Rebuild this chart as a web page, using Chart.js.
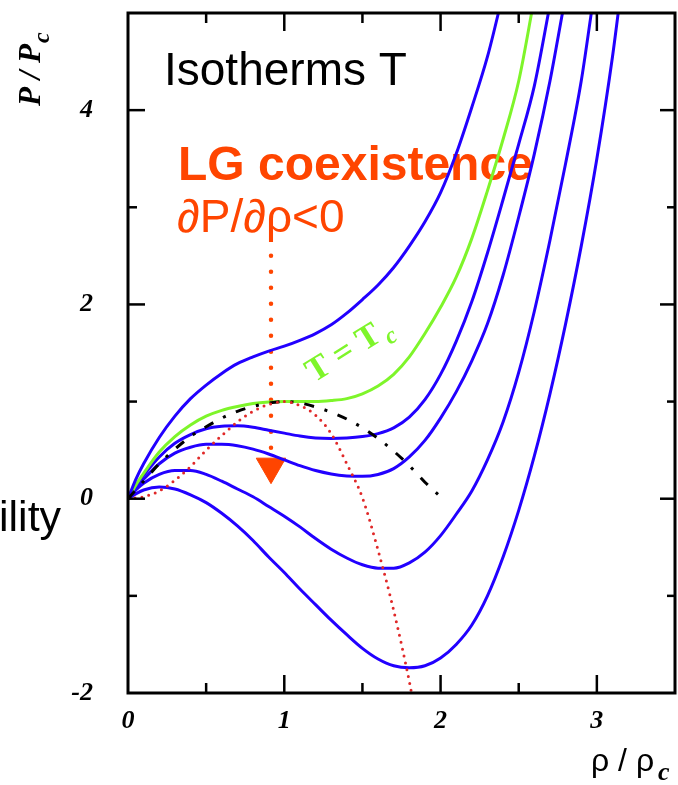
<!DOCTYPE html>
<html>
<head>
<meta charset="utf-8">
<script src="https://cdn.jsdelivr.net/npm/chart.js@4.4.1/dist/chart.umd.min.js"></script>
<style>
  html, body { margin: 0; padding: 0; background: #fff; }
  canvas { display: block; }
</style>
</head>
<body>
<canvas id="chart" width="678" height="785"></canvas>
<script>
// isotherms, rho / rho_c against P / P_c
const rhoHot = [0, 0.05, 0.1, 0.2, 0.3, 0.4, 0.5, 0.6, 0.7, 0.8, 0.9, 1.0, 1.1, 1.2, 1.3, 1.4, 1.5, 1.6, 1.7, 1.8, 1.9, 2.0, 2.1, 2.2, 2.3, 2.37, 2.42];
const pHot   = [0, 0.2, 0.36, 0.63, 0.85, 1.03, 1.17, 1.29, 1.39, 1.46, 1.52, 1.57, 1.63, 1.7, 1.79, 1.91, 2.05, 2.2, 2.38, 2.6, 2.85, 3.15, 3.55, 4.03, 4.55, 5.0, 5.35];

const rhoCrit = [0, 0.05, 0.1, 0.2, 0.3, 0.4, 0.5, 0.6, 0.7, 0.8, 0.9, 1.0, 1.1, 1.2, 1.3, 1.4, 1.5, 1.6, 1.7, 1.8, 1.9, 2.0, 2.1, 2.2, 2.3, 2.4, 2.5, 2.58, 2.62];
const pCrit   = [0, 0.14, 0.26, 0.48, 0.64, 0.76, 0.85, 0.91, 0.95, 0.98, 0.995, 1.0, 1.0, 1.0, 1.01, 1.03, 1.08, 1.16, 1.28, 1.46, 1.7, 1.97, 2.28, 2.68, 3.17, 3.7, 4.3, 4.98, 5.35];

const rhoB1 = [0, 0.05, 0.1, 0.2, 0.3, 0.4, 0.5, 0.6, 0.7, 0.8, 0.9, 1.0, 1.1, 1.2, 1.3, 1.4, 1.5, 1.6, 1.7, 1.8, 1.9, 2.0, 2.1, 2.2, 2.3, 2.4, 2.5, 2.6, 2.69, 2.73];
const pB1   = [0, 0.13, 0.24, 0.43, 0.57, 0.66, 0.72, 0.745, 0.75, 0.735, 0.705, 0.675, 0.645, 0.625, 0.62, 0.625, 0.64, 0.67, 0.73, 0.84, 1.02, 1.28, 1.62, 2.03, 2.53, 3.08, 3.65, 4.25, 5.0, 5.35];

const rhoB2 = [0, 0.05, 0.1, 0.2, 0.3, 0.4, 0.5, 0.6, 0.7, 0.8, 0.9, 1.0, 1.1, 1.2, 1.3, 1.4, 1.5, 1.6, 1.7, 1.8, 1.9, 2.0, 2.1, 2.2, 2.3, 2.4, 2.5, 2.6, 2.7, 2.78, 2.82];
const pB2   = [0, 0.11, 0.2, 0.36, 0.47, 0.53, 0.56, 0.56, 0.545, 0.51, 0.46, 0.4, 0.34, 0.29, 0.255, 0.235, 0.23, 0.25, 0.31, 0.43, 0.6, 0.83, 1.1, 1.42, 1.8, 2.3, 2.9, 3.55, 4.3, 5.0, 5.35];

const rhoB3 = [0, 0.05, 0.1, 0.2, 0.3, 0.4, 0.5, 0.6, 0.7, 0.8, 0.9, 1.0, 1.1, 1.2, 1.3, 1.4, 1.5, 1.6, 1.7, 1.8, 1.9, 2.0, 2.1, 2.2, 2.3, 2.4, 2.5, 2.6, 2.7, 2.8, 2.9, 2.96, 3.0];
const pB3   = [0, 0.09, 0.16, 0.25, 0.29, 0.29, 0.25, 0.18, 0.1, 0.02, -0.08, -0.18, -0.29, -0.41, -0.52, -0.61, -0.68, -0.715, -0.715, -0.66, -0.55, -0.38, -0.16, 0.08, 0.4, 0.79, 1.3, 1.93, 2.66, 3.45, 4.3, 4.95, 5.4];

const rhoB4 = [0, 0.05, 0.1, 0.2, 0.3, 0.4, 0.5, 0.6, 0.7, 0.8, 0.9, 1.0, 1.1, 1.2, 1.3, 1.4, 1.5, 1.6, 1.7, 1.8, 1.9, 2.0, 2.1, 2.2, 2.3, 2.4, 2.5, 2.6, 2.7, 2.8, 2.9, 3.0, 3.1, 3.16];
const pB4   = [0, 0.05, 0.09, 0.12, 0.1, 0.04, -0.04, -0.15, -0.28, -0.43, -0.6, -0.76, -0.93, -1.09, -1.25, -1.4, -1.54, -1.65, -1.72, -1.74, -1.72, -1.64, -1.5, -1.3, -1.0, -0.6, -0.12, 0.44, 1.08, 1.8, 2.6, 3.5, 4.55, 5.3];

// coexistence (dash-dot) and spinodal (red dots)
const rhoCoex = [0, 0.1, 0.2, 0.3, 0.4, 0.5, 0.6, 0.7, 0.8, 0.9, 1.0, 1.1, 1.2, 1.3, 1.4, 1.5, 1.6, 1.7, 1.8, 1.9, 2.0];
const pCoex   = [0, 0.18, 0.36, 0.51, 0.64, 0.74, 0.83, 0.9, 0.95, 0.985, 1.0, 0.985, 0.945, 0.89, 0.82, 0.73, 0.62, 0.49, 0.34, 0.17, 0.02];

const rhoSpin = [0, 0.1, 0.2, 0.3, 0.4, 0.5, 0.6, 0.7, 0.8, 0.9, 1.0, 1.1, 1.2, 1.3, 1.4, 1.5, 1.6, 1.7, 1.8, 1.82];
const pSpin   = [0, 0.02, 0.08, 0.19, 0.33, 0.5, 0.65, 0.79, 0.9, 0.97, 1.0, 0.96, 0.86, 0.67, 0.36, 0.01, -0.53, -1.15, -1.88, -2.05];

// arrow: dotted stem and head
const rhoArrow = [0.915, 0.915];
const pArrow   = [2.5, 0.5];
const arrowHead = [{ x: 0.915, y: 0.33 }];

// axes
const xTickLabels = [0, 1, 2, 3];
const yTickLabels = [-2, 0, 2, 4];
const xMajor = [1, 2, 3];
const xMinor = [0.5, 1.5, 2.5];
const yMajor = [0, 2, 4];
const yMinor = [-1, 1, 3];

const BLUE = '#2200ff';
const GREEN = '#7ef52a';
const ORANGE = '#ff4500';

const toPts = (xs, ys) => xs.map((x, i) => ({ x, y: ys[i] }));

const curve = (xs, ys, color) => ({
  data: toPts(xs, ys),
  borderColor: color,
  borderWidth: 3,
  pointRadius: 0,
  cubicInterpolationMode: 'monotone'
});

const framePlugin = {
  id: 'framePlugin',
  afterDatasetsDraw(chart) {
    const { ctx, chartArea: a, scales: { x, y } } = chart;
    ctx.save();
    ctx.strokeStyle = '#000';
    ctx.lineWidth = 2.5;
    const tick = (x1, y1, x2, y2) => {
      ctx.beginPath(); ctx.moveTo(x1, y1); ctx.lineTo(x2, y2); ctx.stroke();
    };
    xMajor.forEach(v => {
      const px = x.getPixelForValue(v);
      tick(px, a.bottom, px, a.bottom - 18);
      tick(px, a.top, px, a.top + 18);
    });
    xMinor.forEach(v => {
      const px = x.getPixelForValue(v);
      tick(px, a.bottom, px, a.bottom - 10);
      tick(px, a.top, px, a.top + 10);
    });
    yMajor.forEach(v => {
      const py = y.getPixelForValue(v);
      tick(a.left, py, a.left + 17, py);
      tick(a.right, py, a.right - 15, py);
    });
    yMinor.forEach(v => {
      const py = y.getPixelForValue(v);
      tick(a.left, py, a.left + 9, py);
      tick(a.right, py, a.right - 8, py);
    });
    ctx.lineWidth = 3;
    ctx.strokeRect(a.left, a.top, a.right - a.left, a.bottom - a.top);
    ctx.restore();
  }
};

const textPlugin = {
  id: 'textPlugin',
  beforeDatasetsDraw(chart) {
    const ctx = chart.ctx;
    ctx.save();
    ctx.textAlign = 'left';
    ctx.textBaseline = 'alphabetic';

    ctx.fillStyle = '#000';
    ctx.font = '46px "Liberation Sans"';
    ctx.fillText('Isotherms T', 164, 85);
    ctx.font = '43px "Liberation Sans"';
    ctx.fillText('ility', -1, 531);

    ctx.fillStyle = ORANGE;
    ctx.font = 'bold 48px "Liberation Sans"';
    ctx.fillText('LG coexistence', 178, 180);
    ctx.font = '46px "Liberation Sans"';
    ctx.fillText('∂P/∂ρ<0', 177, 232);

    // T = Tc along the critical isotherm
    ctx.save();
    ctx.translate(314, 383);
    ctx.rotate(-32 * Math.PI / 180);
    ctx.fillStyle = GREEN;
    ctx.font = 'bold 34px "Liberation Serif"';
    ctx.fillText('T = T', 0, 0);
    let w = ctx.measureText('T = T').width;
    ctx.font = 'bold italic 24px "Liberation Serif"';
    ctx.fillText('c', w + 3, 8);
    ctx.restore();

    // y title
    ctx.save();
    ctx.translate(40, 106);
    ctx.rotate(-Math.PI / 2);
    ctx.fillStyle = '#000';
    ctx.font = 'bold italic 31px "Liberation Serif"';
    ctx.fillText('P / P', 0, 0);
    w = ctx.measureText('P / P').width;
    ctx.font = 'bold italic 24px "Liberation Serif"';
    ctx.fillText('c', w + 1, 9);
    ctx.restore();

    // x title
    ctx.fillStyle = '#000';
    ctx.font = '32px "Liberation Sans"';
    ctx.fillText('ρ / ρ', 591, 771);
    w = ctx.measureText('ρ / ρ').width;
    ctx.font = 'bold italic 26px "Liberation Serif"';
    ctx.fillText('c', 591 + w + 4, 780);

    ctx.restore();
  }
};

const tickFont = { family: 'Liberation Serif', size: 26, style: 'italic', weight: 'bold' };

new Chart(document.getElementById('chart'), {
  type: 'line',
  data: {
    datasets: [
      {
        data: toPts(rhoSpin, pSpin),
        borderColor: '#e02828',
        borderWidth: 3,
        borderDash: [0, 7],
        borderCapStyle: 'round',
        pointRadius: 0,
        cubicInterpolationMode: 'monotone'
      },
      {
        data: toPts(rhoCoex, pCoex),
        borderColor: '#000',
        borderWidth: 3,
        borderDash: [10, 11, 3, 11],
        pointRadius: 0,
        cubicInterpolationMode: 'monotone'
      },
      curve(rhoHot, pHot, BLUE),
      curve(rhoCrit, pCrit, GREEN),
      curve(rhoB1, pB1, BLUE),
      curve(rhoB2, pB2, BLUE),
      curve(rhoB3, pB3, BLUE),
      curve(rhoB4, pB4, BLUE),
      {
        data: toPts(rhoArrow, pArrow),
        borderColor: ORANGE,
        borderWidth: 4.5,
        borderDash: [0, 16],
        borderCapStyle: 'round',
        pointRadius: 0
      },
      {
        type: 'scatter',
        data: arrowHead,
        pointStyle: 'triangle',
        rotation: 180,
        pointRadius: 17,
        backgroundColor: ORANGE,
        borderColor: ORANGE,
        borderWidth: 1
      }
    ]
  },
  options: {
    responsive: false,
    animation: false,
    events: [],
    layout: { autoPadding: false, padding: { top: 13, right: 3, left: 0, bottom: 0 } },
    plugins: { legend: { display: false }, tooltip: { enabled: false } },
    scales: {
      x: {
        type: 'linear',
        min: 0,
        max: 3.5,
        grid: { display: false, drawTicks: false },
        border: { display: false },
        ticks: {
          stepSize: 0.5,
          autoSkip: false,
          maxRotation: 0,
          padding: 13,
          color: '#000',
          font: tickFont,
          callback: v => xTickLabels.includes(v) ? String(v) : ''
        },
        afterFit(s) { s.height = 92; s.paddingLeft = 0; s.paddingRight = 0; }
      },
      y: {
        type: 'linear',
        min: -2,
        max: 5,
        grid: { display: false, drawTicks: false },
        border: { display: false },
        ticks: {
          stepSize: 1,
          autoSkip: false,
          padding: 35,
          color: '#000',
          font: tickFont,
          callback: v => yTickLabels.includes(v) ? String(v) : ''
        },
        afterFit(s) { s.width = 128; s.paddingTop = 0; s.paddingBottom = 0; }
      }
    }
  },
  plugins: [textPlugin, framePlugin]
});
</script>
</body>
</html>
